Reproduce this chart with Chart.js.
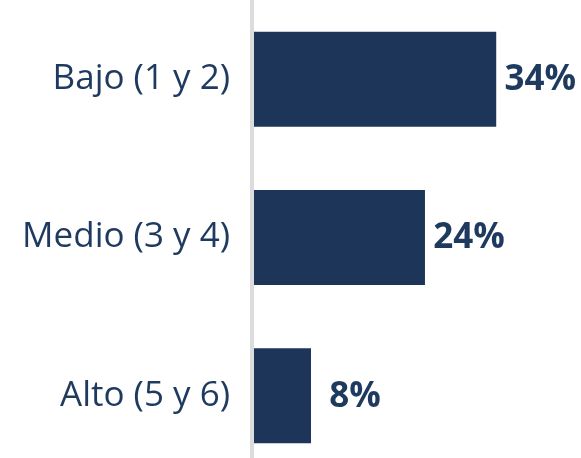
<!DOCTYPE html>
<html><head><meta charset="utf-8">
<script src="https://cdn.jsdelivr.net/npm/chart.js@4/dist/chart.umd.min.js"></script>
<style>
html,body{margin:0;padding:0;background:#fff;overflow:hidden;width:581px;height:458px}
</style></head><body>
<canvas id="c" width="581" height="475"></canvas>
<script>
const categories = ["Bajo (1 y 2)", "Medio (3 y 4)", "Alto (5 y 6)"];
const values = [34, 24, 8];
const valueLabels = ["34%", "24%", "8%"];

const NAVY = '#1e355a';
const TEXT = '#1f3a5f';

const axisLine = {
  id: 'axisLine',
  beforeDatasetsDraw(chart) {
    const {ctx, chartArea} = chart;
    ctx.save();
    ctx.fillStyle = '#dcdcdc';
    ctx.fillRect(chartArea.left - 4, 0, 4, chart.height);
    ctx.restore();
  }
};
const valueLabelPlugin = {
  id: 'valueLabelPlugin',
  afterDatasetsDraw(chart) {
    const {ctx} = chart;
    const meta = chart.getDatasetMeta(0);
    ctx.save();
    ctx.fillStyle = TEXT;
    ctx.font = 'bold 35px "Open Sans"';
    ctx.textAlign = 'center';
    ctx.textBaseline = 'middle';
    meta.data.forEach((bar, i) => {
      ctx.fillText(valueLabels[i], bar.x + 44, bar.y + 1);
    });
    ctx.restore();
  }
};

new Chart(document.getElementById('c'), {
  type: 'bar',
  data: {
    labels: categories,
    datasets: [{
      data: values,
      backgroundColor: NAVY,
      borderWidth: 0,
      categoryPercentage: 0.6,
      barPercentage: 1.0
    }]
  },
  options: {
    indexAxis: 'y',
    responsive: false,
    animation: false,
    layout: {padding: 0},
    plugins: {legend: {display: false}, tooltip: {enabled: false}},
    scales: {
      x: {
        min: 0, max: 45.9,
        display: false
      },
      y: {
        grid: {display: false, drawTicks: false},
        border: {display: false},
        ticks: {
          color: TEXT,
          font: {family: '"Open Sans"', size: 35},
          padding: 24
        },
        afterFit(scale) {
          scale.width = 254;
          scale.paddingTop = 0;
          scale.paddingBottom = 0;
        }
      }
    }
  },
  plugins: [axisLine, valueLabelPlugin]
});
</script>
</body></html>
